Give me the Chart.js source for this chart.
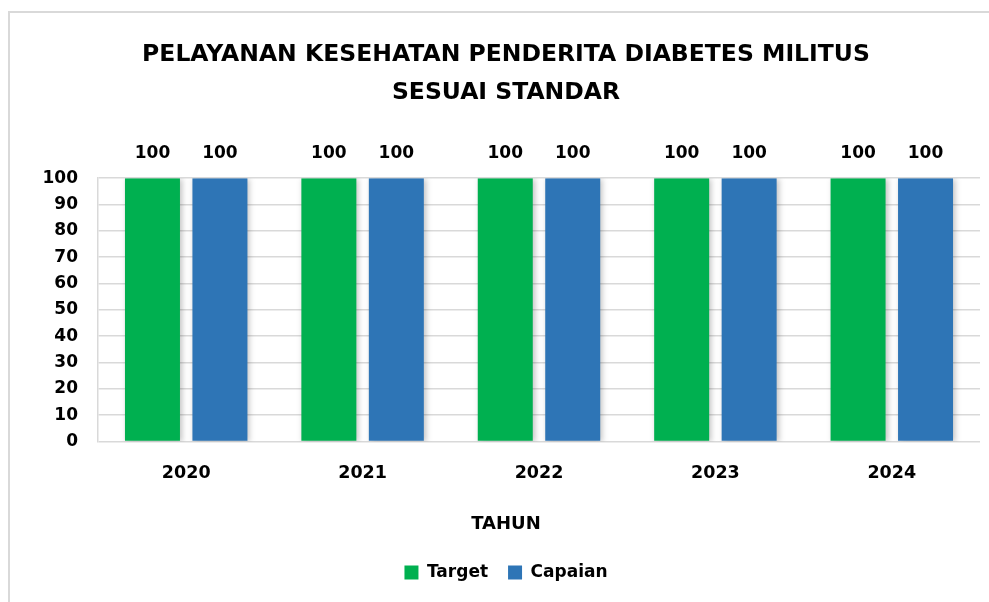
<!DOCTYPE html>
<html>
<head>
<meta charset="utf-8">
<script src="https://cdn.jsdelivr.net/npm/chart.js@4.4.1/dist/chart.umd.min.js"></script>
<style>
  html, body { margin: 0; padding: 0; background: #fff; overflow: hidden; }
  #wrap { width: 989px; height: 602px; position: relative; overflow: hidden; }
</style>
</head>
<body>
<div id="wrap"><canvas id="chart" width="1012" height="602"></canvas></div>
<script>
const years = ["2020", "2021", "2022", "2023", "2024"];
const target = [100, 100, 100, 100, 100];
const capaian = [100, 100, 100, 100, 100];
const titleLines = ["PELAYANAN KESEHATAN PENDERITA DIABETES MILITUS", "SESUAI STANDAR"];
const xTitle = "TAHUN";

const FONT = "'DejaVu Sans'";

// outer frame like the Excel chart border
const framePlugin = {
    id: "frame",
    beforeDraw(chart) {
        const ctx = chart.ctx;
        ctx.save();
        ctx.fillStyle = "#fff";
        ctx.fillRect(0, 0, chart.width, chart.height);
        ctx.strokeStyle = "#d9d9d9";
        ctx.lineWidth = 2;
        ctx.beginPath();
        ctx.moveTo(9, chart.height);
        ctx.lineTo(9, 12);
        ctx.lineTo(chart.width, 12);
        ctx.stroke();
        ctx.restore();
    }
};

// soft shadow on bars
const shadowPlugin = {
    id: "barShadow",
    beforeDatasetsDraw(chart) {
        const ctx = chart.ctx;
        ctx.save();
        ctx.shadowColor = "rgba(0,0,0,0.25)";
        ctx.shadowBlur = 6;
        ctx.shadowOffsetX = 2;
        ctx.shadowOffsetY = 1;
    },
    afterDatasetsDraw(chart) {
        chart.ctx.restore();
    }
};

// value labels above bars
const valueLabels = {
    id: "valueLabels",
    afterDatasetsDraw(chart) {
        const ctx = chart.ctx;
        ctx.save();
        ctx.font = `bold 17px ${FONT}`;
        ctx.fillStyle = "#000";
        ctx.textAlign = "center";
        ctx.textBaseline = "middle";
        chart.data.datasets.forEach((ds, i) => {
            chart.getDatasetMeta(i).data.forEach((bar, j) => {
                ctx.fillText(ds.data[j], bar.x, bar.y - 25);
            });
        });
        ctx.restore();
    }
};

new Chart(document.getElementById("chart"), {
    type: "bar",
    data: {
        labels: years,
        datasets: [
            { label: "Target", data: target, backgroundColor: "#00B050" },
            { label: "Capaian", data: capaian, backgroundColor: "#2E75B6" }
        ]
    },
    options: {
        responsive: false,
        animation: false,
        layout: { padding: { left: 0, right: 0, top: 0, bottom: 11 } },
        datasets: {
            bar: { categoryPercentage: 0.765, barPercentage: 0.815 }
        },
        plugins: {
            title: {
                display: true,
                text: titleLines,
                color: "#000",
                font: { family: FONT, size: 23.5, weight: "bold", lineHeight: 1.6 },
                padding: { top: 36, bottom: 67 }
            },
            subtitle: {
                display: true,
                position: "bottom",
                text: xTitle,
                color: "#000",
                font: { family: FONT, size: 18, weight: "bold" },
                padding: { top: 7, bottom: 9 }
            },
            legend: {
                position: "bottom",
                weight: 3000,
                labels: {
                    color: "#000",
                    font: { family: FONT, size: 17, weight: "bold" },
                    boxWidth: 14,
                    boxHeight: 14,
                    padding: 20
                }
            },
            tooltip: { enabled: false }
        },
        scales: {
            x: {
                grid: { display: false, drawTicks: false },
                border: { display: false },
                ticks: {
                    color: "#000",
                    font: { family: FONT, size: 17.5, weight: "bold" },
                    padding: 22
                }
            },
            y: {
                min: 0,
                max: 100,
                afterFit(scale) { scale.width = 98; },
                grid: { color: "#d9d9d9", lineWidth: 1.5, drawTicks: false },
                border: { display: true, color: "#d9d9d9", width: 1.5 },
                ticks: {
                    stepSize: 10,
                    autoSkip: false,
                    color: "#000",
                    font: { family: FONT, size: 17, weight: "bold" },
                    padding: 20
                }
            },
            // empty right axis so titles/legend centre like the original
            yRight: {
                position: "right",
                display: true,
                afterFit(scale) { scale.width = 32; },
                grid: { display: false, drawTicks: false },
                border: { display: false },
                ticks: { display: false }
            }
        }
    },
    plugins: [framePlugin, shadowPlugin, valueLabels]
});
</script>
</body>
</html>
